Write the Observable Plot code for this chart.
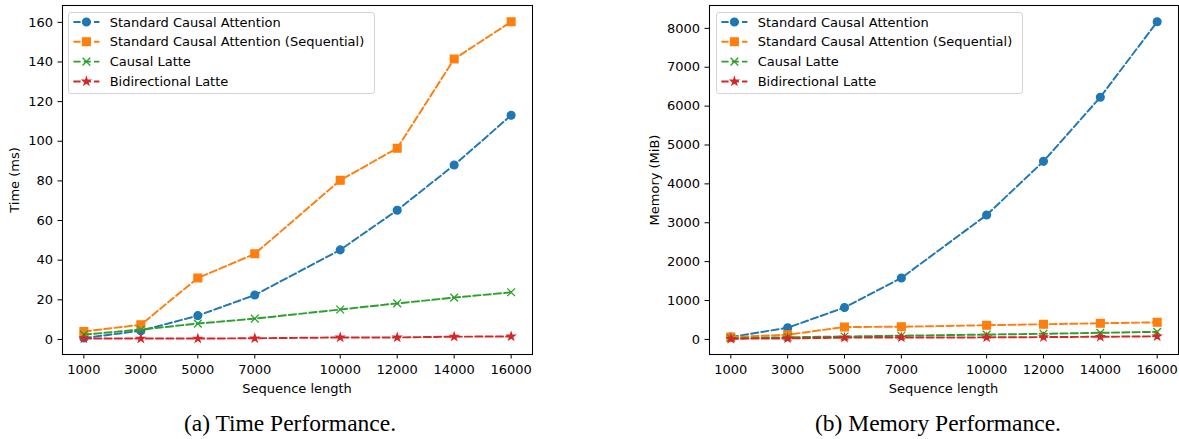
<!DOCTYPE html>
<html><head><meta charset="utf-8">
<script src="https://cdn.jsdelivr.net/npm/d3@7"></script>
<script src="https://cdn.jsdelivr.net/npm/@observablehq/plot@0.6"></script>
<style>
html,body{margin:0;padding:0;background:#fff;}
body{width:1179px;height:439px;overflow:hidden;position:relative;font-family:"DejaVu Sans",sans-serif;}
.panel{position:absolute;top:0;}
.ylab{position:absolute;transform:translate(-50%,-50%) rotate(-90deg);font-size:13px;color:#000;white-space:nowrap;line-height:1;}
.xlab{position:absolute;transform:translate(-50%,-50%);font-size:13px;color:#000;white-space:nowrap;line-height:1;}
.cap{position:absolute;transform:translate(-50%,-50%);font-family:"Liberation Serif",serif;font-size:23.5px;color:#000;white-space:nowrap;line-height:1;}
.legend{position:absolute;top:12px;border:1px solid #d4d4d4;border-radius:3px;background:rgba(255,255,255,0.8);line-height:0;}
</style>
</head><body>
<script>
// ---- data ----
const seqLengths = [1000, 3000, 5000, 7000, 10000, 12000, 14000, 16000];
const xTickValues = [1000, 3000, 5000, 7000, 10000, 12000, 14000, 16000];
const seriesNames = ["Standard Causal Attention", "Standard Causal Attention (Sequential)", "Causal Latte", "Bidirectional Latte"];

const timeStandard    = [0.7, 4.4, 12.0, 22.4, 45.2, 65.2, 88.0, 113.1];
const timeSequential  = [4.0, 7.4, 31.0, 43.2, 80.3, 96.5, 141.5, 160.3];
const timeCausalLatte = [2.4, 5.0, 8.0, 10.5, 15.1, 18.2, 21.1, 23.8];
const timeBidirLatte  = [0.5, 0.45, 0.45, 0.6, 1.0, 1.0, 1.4, 1.5];
const timeTicks = [0, 20, 40, 60, 80, 100, 120, 140, 160];

const memStandard    = [60, 300, 820, 1580, 3200, 4580, 6230, 8170];
const memSequential  = [60, 120, 320, 325, 365, 390, 415, 440];
const memCausalLatte = [30, 55, 75, 95, 125, 145, 170, 195];
const memBidirLatte  = [17, 26, 45, 50, 52, 60, 68, 80];
const memTicks = [0, 1000, 2000, 3000, 4000, 5000, 6000, 7000, 8000];

const axisTitles = {time: "Time (ms)", mem: "Memory (MiB)", x: "Sequence length"};
const captions = ["(a) Time Performance.", "(b) Memory Performance."];

// ---- styles ----
const colors = ["#1f77b4", "#ff7f0e", "#2ca02c", "#d62728"];
const symbols = ["circle", "square", "times", "star"];
const d3symbols = [d3.symbolCircle, d3.symbolSquare, d3.symbolTimes, d3.symbolStar];
const radii = [3.9, 4.4, 3.6, 2.35];
const lineW = 1.95, dash = "7.2,3.1";

function dotOpts(i) {
  return i === 2
    ? {symbol: symbols[i], r: radii[i], fill: "none", stroke: colors[i], strokeWidth: 1.3}
    : {symbol: symbols[i], r: radii[i], fill: colors[i], stroke: colors[i], strokeWidth: 1.3};
}

function makePanel(seriesValues, yDomain, yTicks, w, ml, mr) {
  const rows = [];
  seriesValues.forEach((vals, i) => vals.forEach((v, j) => rows.push({si: i, x: seqLengths[j], y: v})));
  const marks = [
    Plot.axisX({ticks: xTickValues, tickFormat: d3.format("d"), tickSize: 4.5, tickPadding: 6, fontSize: 13, label: null}),
    Plot.axisY({ticks: yTicks, tickFormat: d3.format("d"), tickSize: 4.5, tickPadding: 5, fontSize: 13, label: null})
  ];
  seriesValues.forEach((vals, i) => {
    const d = rows.filter(r => r.si === i);
    marks.push(Plot.line(d, {x: "x", y: "y", stroke: colors[i], strokeWidth: lineW, strokeDasharray: dash}));
    marks.push(Plot.dot(d, {x: "x", y: "y", ...dotOpts(i)}));
  });
  marks.push(Plot.frame({stroke: "black", strokeWidth: 1.05}));
  return Plot.plot({
    width: w, height: 400, marginLeft: ml, marginRight: mr, marginTop: 5, marginBottom: 46,
    x: {type: "linear", domain: [250, 16750]},
    y: {type: "linear", domain: yDomain},
    style: {fontFamily: "DejaVu Sans", fontSize: "13px", color: "black", background: "transparent"},
    marks
  });
}

function makeLegend(left) {
  const div = document.createElement("div");
  div.className = "legend";
  div.style.left = left + "px";
  const svg = d3.create("svg").attr("width", 305).attr("height", 80);
  seriesNames.forEach((name, i) => {
    const cy = 9 + 19.8 * i;
    svg.append("line").attr("x1", 4.4).attr("x2", 30.4).attr("y1", cy).attr("y2", cy)
      .attr("stroke", colors[i]).attr("stroke-width", lineW).attr("stroke-dasharray", dash);
    const o = dotOpts(i);
    svg.append("path").attr("d", d3.symbol(d3symbols[i], Math.PI * radii[i] * radii[i])())
      .attr("transform", `translate(17.4,${cy})`)
      .attr("fill", o.fill).attr("stroke", o.stroke).attr("stroke-width", o.strokeWidth);
    svg.append("text").attr("x", 40.7).attr("y", cy).attr("dy", "0.35em")
      .attr("font-family", "DejaVu Sans").attr("font-size", 13).attr("fill", "black").text(name);
  });
  div.appendChild(svg.node());
  return div;
}

function addText(cls, text, x, y) {
  const d = document.createElement("div");
  d.className = cls; d.textContent = text;
  d.style.left = x + "px"; d.style.top = y + "px";
  document.body.appendChild(d);
}

// left panel
const left = document.createElement("div");
left.className = "panel"; left.style.left = "0px";
left.appendChild(makePanel([timeStandard, timeSequential, timeCausalLatte, timeBidirLatte], [-7.6, 168.5], timeTicks, 545, 62, 13));
document.body.appendChild(left);
document.body.appendChild(makeLegend(68));

// right panel
const right = document.createElement("div");
right.className = "panel"; right.style.left = "600px";
right.appendChild(makePanel([memStandard, memSequential, memCausalLatte, memBidirLatte], [-388, 8588], memTicks, 579, 109, 1));
document.body.appendChild(right);
document.body.appendChild(makeLegend(716));

addText("ylab", axisTitles.time, 14, 179.5);
addText("ylab", axisTitles.mem, 653.5, 179.5);
addText("xlab", axisTitles.x, 297, 387.5);
addText("xlab", axisTitles.x, 943.5, 387.5);
addText("cap", captions[0], 290, 424);
addText("cap", captions[1], 938, 424);
</script>
</body></html>
